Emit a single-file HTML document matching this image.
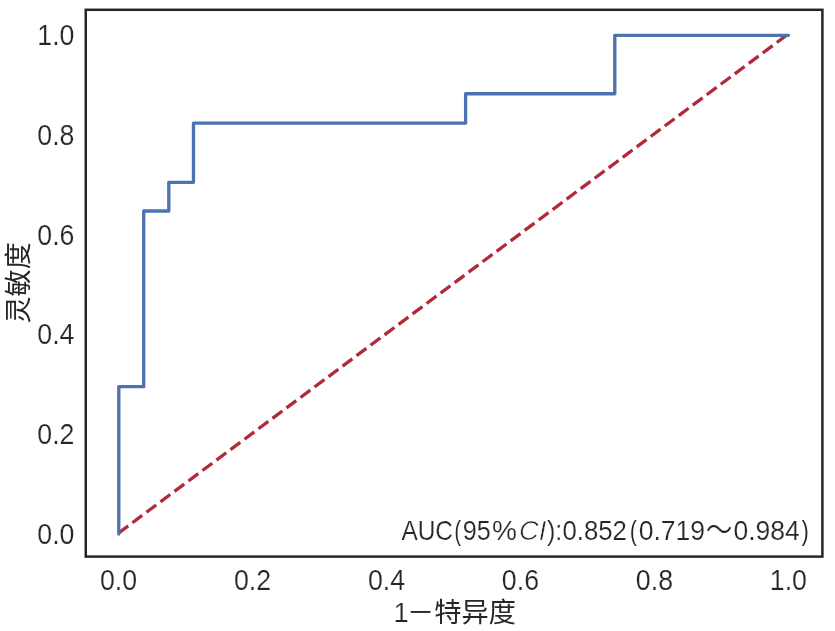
<!DOCTYPE html>
<html lang="zh">
<head>
<meta charset="utf-8">
<title>ROC</title>
<style>
html,body{margin:0;padding:0;background:#fff;}
body{width:835px;height:631px;overflow:hidden;}
svg{display:block;}
text{font-family:"Liberation Sans","Noto Sans CJK SC",sans-serif;fill:#262626;}
.tick{font-size:28px;stroke:#ffffff;stroke-width:0.2px;}
.ci{stroke-width:0.6px;}
.np{stroke:none;}
.lab{font-size:27.4px;}
</style>
</head>
<body>
<svg width="835" height="631" viewBox="0 0 835 631">
<rect x="0" y="0" width="835" height="631" fill="#ffffff"/>
<!-- diagonal reference -->
<line x1="118.8" y1="532.85" x2="788.4" y2="33.9" stroke="#b22a3a" stroke-width="3.3" stroke-dasharray="12.25 5.22" stroke-dashoffset="0.5" fill="none"/>
<!-- ROC curve -->
<polyline fill="none" stroke="#4c72b0" stroke-width="3.3" stroke-linejoin="round" stroke-linecap="round"
 points="118.8,534 118.8,386.7 143.7,386.7 143.7,211 168.8,211 168.8,182.3 193.5,182.3 193.5,123.05 465.6,123.05 465.6,93.75 614.8,93.75 614.8,35.35 788.4,35.35"/>
<!-- frame -->
<rect x="85.75" y="9.8" width="736.65" height="546.8" fill="none" stroke="#262626" stroke-width="2.5"/>
<!-- y tick labels -->
<g class="tick" text-anchor="end">
<text transform="translate(74.5,45.15) scale(0.955,1.03)">1.0</text>
<text transform="translate(74.5,144.85) scale(0.955,1.03)">0.8</text>
<text transform="translate(74.5,244.55) scale(0.955,1.03)">0.6</text>
<text transform="translate(74.5,344.25) scale(0.955,1.03)">0.4</text>
<text transform="translate(74.5,443.95) scale(0.955,1.03)">0.2</text>
<text transform="translate(74.5,543.65) scale(0.955,1.03)">0.0</text>
</g>
<!-- x tick labels -->
<g class="tick" text-anchor="middle">
<text transform="translate(118.50,589.6) scale(0.955,1.03)">0.0</text>
<text transform="translate(252.48,589.6) scale(0.955,1.03)">0.2</text>
<text transform="translate(386.46,589.6) scale(0.955,1.03)">0.4</text>
<text transform="translate(520.44,589.6) scale(0.955,1.03)">0.6</text>
<text transform="translate(654.42,589.6) scale(0.955,1.03)">0.8</text>
<text transform="translate(788.40,589.6) scale(0.955,1.03)">1.0</text>
</g>
<!-- axis labels -->
<text class="lab" y="621.6"><tspan x="393.5" font-size="27.4" stroke="#ffffff" stroke-width="0.2">1</tspan><tspan x="407.1" font-size="27.2">－特异度</tspan></text>
<text class="lab" style="font-size:27.1px" transform="translate(27.5,282.85) rotate(-90)" text-anchor="middle">灵敏度</text>
<!-- annotation -->
<text class="tick" y="539.9"><tspan x="401.40" textLength="51.58" lengthAdjust="spacingAndGlyphs">AUC</tspan><tspan x="454.49" textLength="6.43" lengthAdjust="spacingAndGlyphs" class="np">(</tspan><tspan x="462.70" textLength="28.04" lengthAdjust="spacingAndGlyphs">95</tspan><tspan x="492.10" textLength="24.91" lengthAdjust="spacingAndGlyphs">%</tspan><tspan x="518.94" textLength="27.31" lengthAdjust="spacingAndGlyphs" font-style="italic" class="ci">CI</tspan><tspan x="546.98" textLength="15.37" lengthAdjust="spacingAndGlyphs">):</tspan><tspan x="562.38" textLength="64.54" lengthAdjust="spacingAndGlyphs">0.852</tspan><tspan x="629.94" textLength="6.69" lengthAdjust="spacingAndGlyphs" class="np">(</tspan><tspan x="638.65" textLength="66.41" lengthAdjust="spacingAndGlyphs">0.719</tspan><tspan x="705.81" textLength="26.70" lengthAdjust="spacingAndGlyphs">～</tspan><tspan x="733.45" textLength="66.33" lengthAdjust="spacingAndGlyphs">0.984</tspan><tspan x="801.81" textLength="6.95" lengthAdjust="spacingAndGlyphs" class="np">)</tspan></text>
</svg>
</body>
</html>
